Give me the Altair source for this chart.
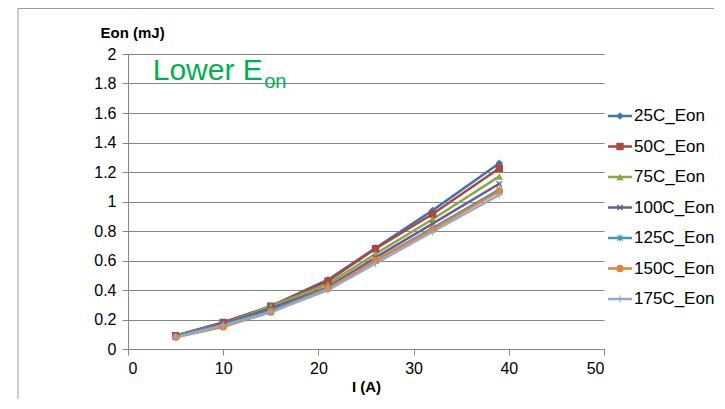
import math
import altair as alt
import pandas as pd

# ---- data ----
currents = [5, 10, 15, 21, 26, 32, 39]
series_names = ["25C_Eon", "50C_Eon", "75C_Eon", "100C_Eon", "125C_Eon", "150C_Eon", "175C_Eon"]
eon_25 = [0.09, 0.18, 0.29, 0.47, 0.685, 0.94, 1.26]
eon_50 = [0.09, 0.18, 0.29, 0.46, 0.68, 0.915, 1.225]
eon_75 = [0.09, 0.17, 0.29, 0.44, 0.645, 0.88, 1.17]
eon_100 = [0.085, 0.17, 0.275, 0.42, 0.62, 0.85, 1.12]
eon_125 = [0.085, 0.165, 0.26, 0.41, 0.60, 0.82, 1.08]
eon_150 = [0.08, 0.15, 0.25, 0.41, 0.60, 0.81, 1.07]
eon_175 = [0.08, 0.16, 0.25, 0.40, 0.58, 0.795, 1.045]
all_series = [eon_25, eon_50, eon_75, eon_100, eon_125, eon_150, eon_175]

y_ticks = [0, 0.2, 0.4, 0.6, 0.8, 1.0, 1.2, 1.4, 1.6, 1.8, 2.0]
x_ticks = [0, 10, 20, 30, 40, 50]

colors = ["#4572A7", "#AA4643", "#89A54E", "#71588F", "#4198AF", "#DB843D", "#93A9CF"]

rows = []
for name, vals in zip(series_names, all_series):
    for i, v in zip(currents, vals):
        rows.append({"I": i, "Eon": v, "series": name})
df = pd.DataFrame(rows)
legend_df = pd.DataFrame({"series": series_names, "rank": list(range(len(series_names)))})

# ---- marker shapes ----
def plus_pts(w=0.16):
    return [(-1, -w), (-w, -w), (-w, -1), (w, -1), (w, -w), (1, -w),
            (1, w), (w, w), (w, 1), (-w, 1), (-w, w), (-1, w)]

def to_path(pts, ang=0.0):
    c, s = math.cos(ang), math.sin(ang)
    p = [(x * c - y * s, x * s + y * c) for x, y in pts]
    return "M" + "L".join(f"{x:.3f},{y:.3f}" for x, y in p) + "Z"

x_path = to_path(plus_pts(0.18), math.pi / 4)
plus_path = to_path(plus_pts(0.14))
star_path = to_path(plus_pts(0.14)) + to_path(plus_pts(0.14), math.pi / 4)
shapes = ["diamond", "square", "triangle-up", x_path, star_path, "circle", plus_path]

FONT = "Liberation Sans"

color_scale = alt.Scale(domain=series_names, range=colors)
shape_scale = alt.Scale(domain=series_names, range=shapes)
color_enc = alt.Color("series:N", scale=color_scale, sort=series_names, legend=None)
shape_enc = alt.Shape("series:N", scale=shape_scale, sort=series_names, legend=None)

x_enc = alt.X("I:Q", scale=alt.Scale(domain=[0, 50]),
              axis=alt.Axis(values=x_ticks, title="I (A)", grid=False,
                            domainColor="#868686", tickColor="#868686", tickSize=6,
                            labelPadding=5, titlePadding=3))
y_enc = alt.Y("Eon:Q", scale=alt.Scale(domain=[0, 2]),
              axis=alt.Axis(values=y_ticks, format="~g", title="Eon (mJ)", titleAngle=0,
                            titleAlign="left", titleBaseline="middle", titleX=-28, titleY=-22,
                            labelOverlap=False,
                            grid=True, gridColor="#868686", domainColor="#868686",
                            tickColor="#868686", tickSize=6, labelPadding=6))

lines = alt.Chart(df).mark_line(strokeWidth=2.5).encode(
    x=x_enc, y=y_enc, color=color_enc, detail="series:N",
)
points = alt.Chart(df).mark_point(filled=True, size=55, opacity=1, strokeWidth=0).encode(
    x=x_enc, y=y_enc, color=color_enc, shape=shape_enc,
)

ann_main = pd.DataFrame({"I": [2.6], "Eon": [1.825], "t": ["Lower E"]})
ann_sub = pd.DataFrame({"I": [14.3], "Eon": [1.77], "t": ["on"]})
t1 = alt.Chart(ann_main).mark_text(align="left", baseline="alphabetic", font=FONT,
                                   fontSize=30, color="#00B050").encode(
    x=x_enc, y=y_enc, text="t:N")
t2 = alt.Chart(ann_sub).mark_text(align="left", baseline="alphabetic", font=FONT,
                                  fontSize=20, color="#00B050").encode(
    x=x_enc, y=y_enc, text="t:N")

main = alt.layer(lines, points, t1, t2)

# ---- legend (line + marker + label), rows placed by a linear scale on the entry index ----
leg_y = alt.Y("rank:Q", scale=alt.Scale(domain=[0, 6], range=[62, 245]), axis=None)
leg_line = alt.Chart(legend_df).mark_rule(strokeWidth=2.5).encode(
    x=alt.value(480), x2=alt.value(504), y=leg_y, color=color_enc,
)
leg_pt = alt.Chart(legend_df).mark_point(filled=True, size=55, opacity=1, strokeWidth=0).encode(
    x=alt.value(492), y=leg_y, color=color_enc, shape=shape_enc,
)
leg_txt = alt.Chart(legend_df).mark_text(align="left", baseline="middle", font=FONT,
                                         fontSize=17, color="#000000").encode(
    x=alt.value(506), y=leg_y, text="series:N",
)
legend_layer = alt.layer(leg_line, leg_pt, leg_txt)

# ---- chart-area border (Excel style frame) ----
frame_top = alt.Chart(legend_df.head(1)).mark_rule(color="#9a9a9a", strokeWidth=1).encode(
    x=alt.value(-110), x2=alt.value(600), y=alt.value(-45.5))
frame_left = alt.Chart(legend_df.head(1)).mark_rule(color="#9a9a9a", strokeWidth=1).encode(
    x=alt.value(-110), y=alt.value(-45.5), y2=alt.value(360))

chart = alt.layer(frame_top, frame_left, main, legend_layer).resolve_scale(
    y="independent").properties(
    width=476, height=295,
    background="white",
    autosize=alt.AutoSizeParams(type="none"),
    padding={"left": 120, "top": 46, "right": 110, "bottom": 50},
).configure_view(stroke=None).configure_axis(
    labelFont=FONT, labelFontSize=16, labelColor="#000000",
    titleFont=FONT, titleFontSize=15, titleFontWeight="bold", titleColor="#000000",
)

chart.save("out.html", embed_options={"renderer": "svg", "actions": False})
